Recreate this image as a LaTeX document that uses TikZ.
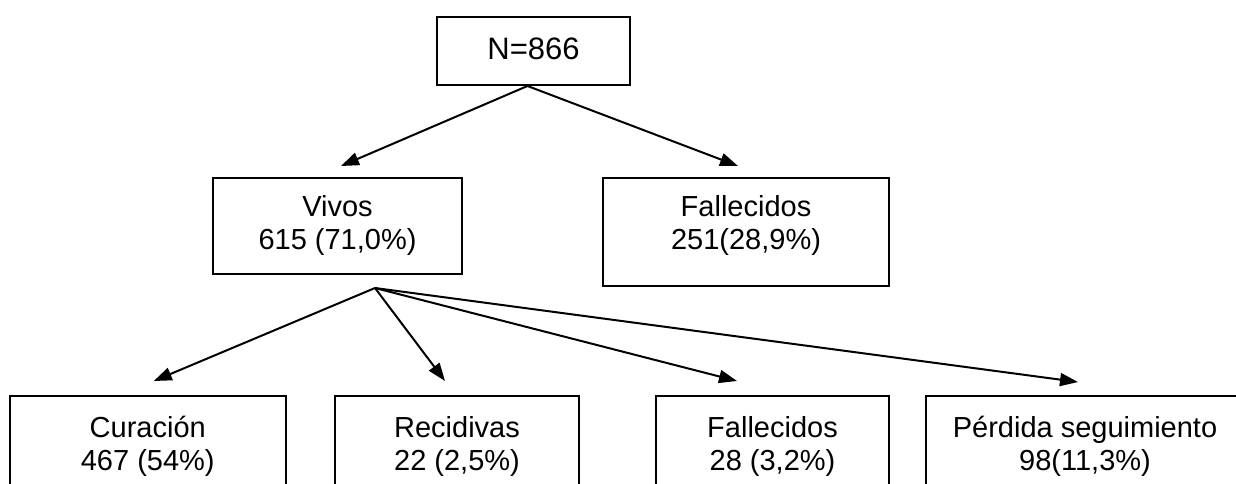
\documentclass[tikz,border=0pt]{standalone}
\usepackage{fontspec}
\setmainfont{Liberation Sans}
\usetikzlibrary{arrows.meta}
\tikzset{
  box/.style={draw, line width=1pt, inner sep=0pt, anchor=base, align=center,
    font=\fontsize{14.5}{16.5}\selectfont},
  flow/.style={-{Triangle[length=9pt,width=6.5pt]}, line width=1pt},
}
\begin{document}
\begin{tikzpicture}[x=0.5pt,y=-0.5pt]
\useasboundingbox (0,0) rectangle (1236,483);
\clip (0,0) rectangle (1236,483);
% first level
\node[box, minimum width=96.5pt, text height=21pt, text depth=13pt,
  font=\fontsize{15.5}{17}\selectfont] (total) at (533.5,59) {N=866};
\node[box, minimum width=124.5pt, text height=35.5pt, text depth=12.5pt] (vivos) at (337.5,249) {Vivos\\615 (71,0\%)};
\node[box, minimum width=143pt, text height=35.5pt, text depth=18.5pt] (fallec) at (746,249) {Fallecidos\\251(28,9\%)};
% second level
\node[box, minimum width=138.25pt, text height=37pt, text depth=15pt] (cura) at (147.75,470) {Curación\\467 (54\%)};
\node[box, minimum width=122pt, text height=37pt, text depth=15pt] (recid) at (457,470) {Recidivas\\22 (2,5\%)};
\node[box, minimum width=116.5pt, text height=37pt, text depth=15pt] (fallecb) at (772.5,470) {Fallecidos\\28 (3,2\%)};
\node[box, minimum width=159pt, text height=37pt, text depth=15pt] (perdida) at (1085,470) {Pérdida seguimiento\\98(11,3\%)};
\coordinate (fan) at (375,288);
\draw[flow] ([xshift=-3pt]total.south) -- ([xshift=1.75pt,yshift=5.5pt]vivos.north);
\draw[flow] ([xshift=-3pt]total.south) -- ([xshift=-4pt,yshift=5.5pt]fallec.north);
\draw[flow] (fan) -- ([xshift=3pt,yshift=7pt]cura.north);
\draw[flow] (fan) -- ([xshift=-6pt,yshift=7pt]recid.north);
\draw[flow] (fan) -- ([xshift=-17.75pt,yshift=7pt]fallecb.north);
\draw[flow] (fan) -- ([xshift=-3.5pt,yshift=6.5pt]perdida.north);
\end{tikzpicture}
\end{document}
